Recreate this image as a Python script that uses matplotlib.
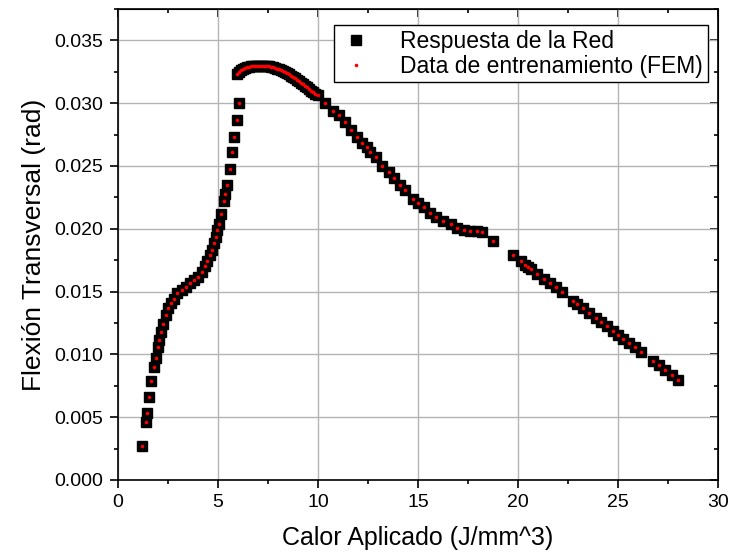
import matplotlib
matplotlib.use("Agg")
import matplotlib.pyplot as plt
from matplotlib.ticker import MultipleLocator, FormatStrFormatter

plt.rcParams['font.family'] = ['Liberation Sans', 'DejaVu Sans']

# Calor aplicado (J/mm^3) y flexion transversal (rad)
calor = [1.22, 1.38, 1.43, 1.57, 1.65, 1.80, 1.90, 1.98, 2.07, 2.15,
         2.27, 2.38, 2.52, 2.65, 2.80, 2.97, 3.18, 3.40, 3.60, 3.82,
         4.02, 4.18, 4.35, 4.47, 4.60, 4.72, 4.82, 4.90, 4.97, 5.07,
         5.15, 5.30, 5.35, 5.43, 5.60, 5.72, 5.80, 5.93, 6.05,
         5.95, 6.05, 6.15, 6.25, 6.35, 6.45, 6.55, 6.65, 6.75, 6.85,
         6.95, 7.05, 7.15, 7.25, 7.35, 7.45, 7.55, 7.65, 7.75, 7.85,
         7.95, 8.05, 8.15, 8.25, 8.35, 8.45, 8.55, 8.65, 8.75, 8.85,
         8.95, 9.05, 9.15, 9.25, 9.35, 9.45, 9.55, 9.65, 9.75, 9.85,
         10.02, 10.35, 10.77, 11.05, 11.33, 11.66, 11.96, 12.20, 12.45, 12.60,
         12.90, 13.20, 13.53, 13.80, 14.08, 14.35, 14.73, 15.02, 15.30, 15.60,
         15.90, 16.23, 16.66, 16.95, 17.30, 17.62, 17.93, 18.20, 18.77, 19.73,
         20.13, 20.35, 20.52, 20.65, 20.93, 21.32, 21.60, 21.90, 22.18, 22.73,
         22.97, 23.27, 23.57, 23.88, 24.15, 24.47, 24.73, 25.02, 25.27, 25.57,
         25.85, 26.15, 26.73, 27.05, 27.35, 27.68, 28.02]
flexion = [0.00273, 0.00459, 0.00536, 0.00663, 0.00790, 0.00900, 0.00968, 0.01060, 0.01114, 0.01180,
           0.01246, 0.01313, 0.01366, 0.01410, 0.01445, 0.01485, 0.01511, 0.01538, 0.01565, 0.01590,
           0.01617, 0.01657, 0.01702, 0.01745, 0.01790, 0.01835, 0.01883, 0.01935, 0.01989, 0.02042,
           0.02120, 0.02220, 0.02275, 0.02347, 0.02480, 0.02612, 0.02731, 0.02864, 0.03004,
           0.03230, 0.03250, 0.03262, 0.03272, 0.03280, 0.03286, 0.03290, 0.03294, 0.03296, 0.03298,
           0.03300, 0.03300, 0.03300, 0.03300, 0.03298, 0.03296, 0.03294, 0.03290, 0.03286, 0.03282,
           0.03276, 0.03270, 0.03264, 0.03256, 0.03248, 0.03240, 0.03230, 0.03220, 0.03210, 0.03200,
           0.03188, 0.03176, 0.03164, 0.03152, 0.03140, 0.03128, 0.03114, 0.03100, 0.03086, 0.03072,
           0.03063, 0.03002, 0.02935, 0.02904, 0.02850, 0.02787, 0.02733, 0.02686, 0.02648, 0.02612,
           0.02570, 0.02500, 0.02450, 0.02403, 0.02347, 0.02307, 0.02235, 0.02206, 0.02175, 0.02127,
           0.02095, 0.02064, 0.02035, 0.02007, 0.01994, 0.01983, 0.01982, 0.01972, 0.01903, 0.01790,
           0.01745, 0.01710, 0.01697, 0.01678, 0.01644, 0.01604, 0.01570, 0.01533, 0.01498, 0.01426,
           0.01398, 0.01371, 0.01326, 0.01291, 0.01259, 0.01225, 0.01185, 0.01153, 0.01122, 0.01092,
           0.01056, 0.01021, 0.00949, 0.00915, 0.00875, 0.00835, 0.00795]

fig = plt.figure(figsize=(7.32, 5.6), dpi=100)
ax = fig.add_axes([118/732, 80/560, 600/732, 471/560])

ax.plot(calor, flexion, linestyle='none', marker='s', markersize=7.5,
        color='black', label='Respuesta de la Red')
ax.plot(calor, flexion, linestyle='none', marker='o', markersize=2.6,
        color='red', markeredgewidth=0, label='Data de entrenamiento (FEM)')

ax.set_xlim(0, 30)
ax.set_ylim(0, 0.0375)
ax.xaxis.set_major_locator(MultipleLocator(5))
ax.xaxis.set_minor_locator(MultipleLocator(2.5))
ax.yaxis.set_major_locator(MultipleLocator(0.005))
ax.yaxis.set_minor_locator(MultipleLocator(0.0025))
ax.yaxis.set_major_formatter(FormatStrFormatter('%.3f'))

ax.grid(True, which='major', color='#b4b4b4', linewidth=1)
ax.set_axisbelow(True)
for s in ax.spines.values():
    s.set_linewidth(1.2)
ax.tick_params(which='major', direction='out', length=6, width=1.2, labelsize=14)
ax.tick_params(axis='y', which='major', pad=5)
ax.tick_params(axis='x', which='major', pad=4)
ax.tick_params(which='minor', direction='out', length=2.8, width=1.2)

# ticks espejo arriba y a la derecha (hacia adentro, sin etiquetas)
top = ax.secondary_xaxis('top')
top.xaxis.set_major_locator(MultipleLocator(5))
top.xaxis.set_minor_locator(MultipleLocator(2.5))
top.tick_params(which='both', direction='in', labeltop=False, width=1.2)
top.tick_params(which='major', length=6)
top.tick_params(which='minor', length=3)
right = ax.secondary_yaxis('right')
right.yaxis.set_major_locator(MultipleLocator(0.005))
right.yaxis.set_minor_locator(MultipleLocator(0.0025))
right.tick_params(which='both', direction='in', labelright=False, width=1.2)
right.tick_params(which='major', length=6)
right.tick_params(which='minor', length=3)

ax.set_xlabel('Calor Aplicado (J/mm^3)', fontsize=18, labelpad=11)
ax.set_ylabel('Flexión Transversal (rad)', fontsize=19, labelpad=6)

leg = ax.legend(loc='upper right', bbox_to_anchor=(0.983, 0.966), borderaxespad=0,
                fontsize=16.5, fancybox=False, edgecolor='black', framealpha=1,
                handlelength=1.5, handletextpad=1.2, labelspacing=0.1,
                borderpad=0.2, markerscale=1.0)
leg.get_frame().set_linewidth(1.0)

plt.savefig('out.png', dpi=100)
